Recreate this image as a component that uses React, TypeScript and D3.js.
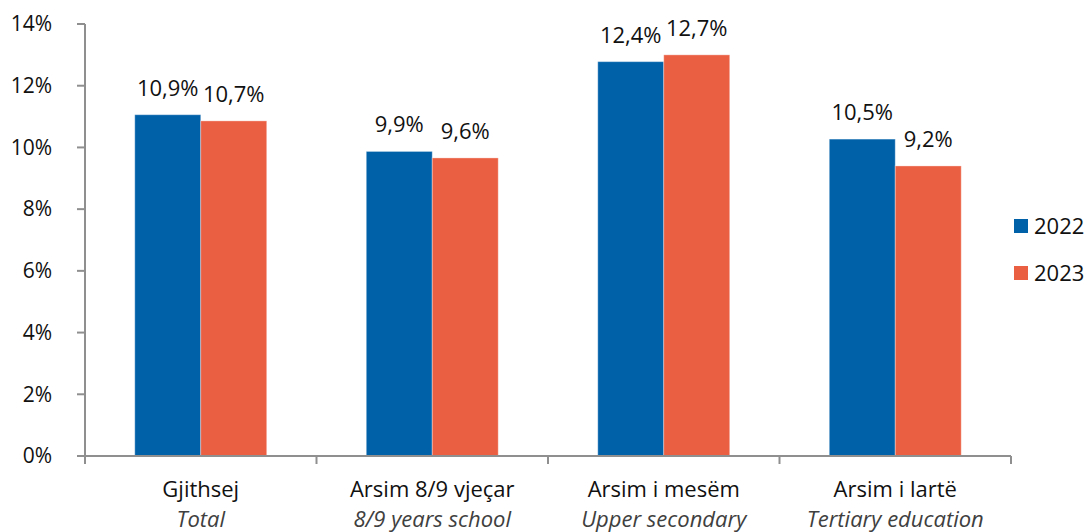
import * as d3 from "d3";
import React, { useEffect, useRef } from "react";

const categories = ["Gjithsej", "Arsim 8/9 vjeçar", "Arsim i mesëm", "Arsim i lartë"];
const categoriesEn = ["Total", "8/9 years school", "Upper secondary", "Tertiary education"];
const years = ["2022", "2023"];
// bar heights as drawn in the picture
const values2022 = [11.06, 9.87, 12.78, 10.27];
const values2023 = [10.86, 9.66, 13.0, 9.4];
// printed data labels
const labels2022 = ["10,9%", "9,9%", "12,4%", "10,5%"];
const labels2023 = ["10,7%", "9,6%", "12,7%", "9,2%"];
const yTicks = [0, 2, 4, 6, 8, 10, 12, 14];

const colors = ["#0061a9", "#ea5e41"];

export default function App() {
  const ref = useRef<SVGSVGElement>(null);

  useEffect(() => {
    document.body.style.margin = "0";
    const width = 1087;
    const height = 532;
    const margin = { top: 24, right: 76, bottom: 76, left: 85 };
    const innerW = width - margin.left - margin.right;
    const innerH = height - margin.top - margin.bottom;
    const font = "'Open Sans', 'Noto Sans', sans-serif";

    const svg = d3.select(ref.current).attr("width", width).attr("height", height);
    svg.selectAll("*").remove();
    const main = svg
      .append("g")
      .attr("transform", `translate(${margin.left},${margin.top})`);

    const x0 = d3.scaleBand().domain(categories).range([0, innerW]).paddingInner(0).paddingOuter(0);
    const x1 = d3
      .scaleBand()
      .domain(years)
      .range([x0.bandwidth() * 0.215, x0.bandwidth() * 0.785]);
    const y = d3.scaleLinear().domain([0, 14]).range([innerH, 0]);

    const series = [
      { year: years[0], values: values2022, labels: labels2022, color: colors[0] },
      { year: years[1], values: values2023, labels: labels2023, color: colors[1] },
    ];

    // bars
    series.forEach((s) => {
      const g = main.append("g");
      g.selectAll("rect")
        .data(categories)
        .enter()
        .append("rect")
        .attr("x", (c) => (x0(c) as number) + (x1(s.year) as number))
        .attr("y", (c, i) => y(s.values[i]))
        .attr("width", x1.bandwidth())
        .attr("height", (c, i) => y(0) - y(s.values[i]))
        .attr("fill", s.color)
        .attr("stroke", "rgba(255,255,255,0.35)")
        .attr("stroke-width", 1);

      g.selectAll("text")
        .data(categories)
        .enter()
        .append("text")
        .attr("x", (c) => (x0(c) as number) + (x1(s.year) as number) + x1.bandwidth() / 2)
        .attr("y", (c, i) => y(s.values[i]) - 19)
        .attr("text-anchor", "middle")
        .attr("font-family", font)
        .attr("font-size", 22)
        .attr("fill", "#111")
        .text((c, i) => s.labels[i]);
    });

    // y axis
    const axisColor = "#8f8f8f";
    main
      .append("line")
      .attr("x1", 0)
      .attr("x2", 0)
      .attr("y1", y(14))
      .attr("y2", innerH + 8)
      .attr("stroke", axisColor)
      .attr("stroke-width", 2);
    const yt = main.append("g").selectAll("g").data(yTicks).enter().append("g");
    yt.append("line")
      .attr("x1", -8)
      .attr("x2", 0)
      .attr("y1", (d) => y(d))
      .attr("y2", (d) => y(d))
      .attr("stroke", axisColor)
      .attr("stroke-width", 2);
    yt.append("text")
      .attr("x", -33)
      .attr("y", (d) => y(d))
      .attr("dy", "0.35em")
      .attr("text-anchor", "end")
      .attr("font-family", font)
      .attr("font-size", 21)
      .attr("fill", "#111")
      .text((d) => `${d}%`);

    // x axis
    main
      .append("line")
      .attr("x1", -8)
      .attr("x2", innerW)
      .attr("y1", innerH)
      .attr("y2", innerH)
      .attr("stroke", axisColor)
      .attr("stroke-width", 2);
    const bounds = categories.map((c) => x0(c) as number).concat([innerW]);
    main
      .append("g")
      .selectAll("line")
      .data(bounds)
      .enter()
      .append("line")
      .attr("x1", (d) => d)
      .attr("x2", (d) => d)
      .attr("y1", innerH)
      .attr("y2", innerH + 8)
      .attr("stroke", axisColor)
      .attr("stroke-width", 2);

    const xl = main.append("g").selectAll("g").data(categories).enter().append("g");
    xl.append("text")
      .attr("x", (c) => (x0(c) as number) + x0.bandwidth() / 2)
      .attr("y", innerH + 41)
      .attr("text-anchor", "middle")
      .attr("font-family", font)
      .attr("font-size", 22)
      .attr("fill", "#111")
      .text((c) => c);
    xl.append("text")
      .attr("x", (c) => (x0(c) as number) + x0.bandwidth() / 2)
      .attr("y", innerH + 71)
      .attr("text-anchor", "middle")
      .attr("font-family", font)
      .attr("font-size", 22)
      .attr("font-style", "italic")
      .attr("fill", "#404040")
      .text((c, i) => categoriesEn[i]);

    // legend
    const legend = svg
      .append("g")
      .attr("transform", "translate(1014,219)")
      .selectAll("g")
      .data(series)
      .enter()
      .append("g")
      .attr("transform", (d, i) => `translate(0,${i * 47})`);
    legend
      .append("rect")
      .attr("width", 14)
      .attr("height", 14)
      .attr("fill", (d) => d.color);
    legend
      .append("text")
      .attr("x", 20)
      .attr("y", 7)
      .attr("dy", "0.35em")
      .attr("font-family", font)
      .attr("font-size", 22)
      .attr("fill", "#111")
      .text((d) => d.year);
  }, []);

  return <svg ref={ref} style={{ display: "block" }} />;
}
